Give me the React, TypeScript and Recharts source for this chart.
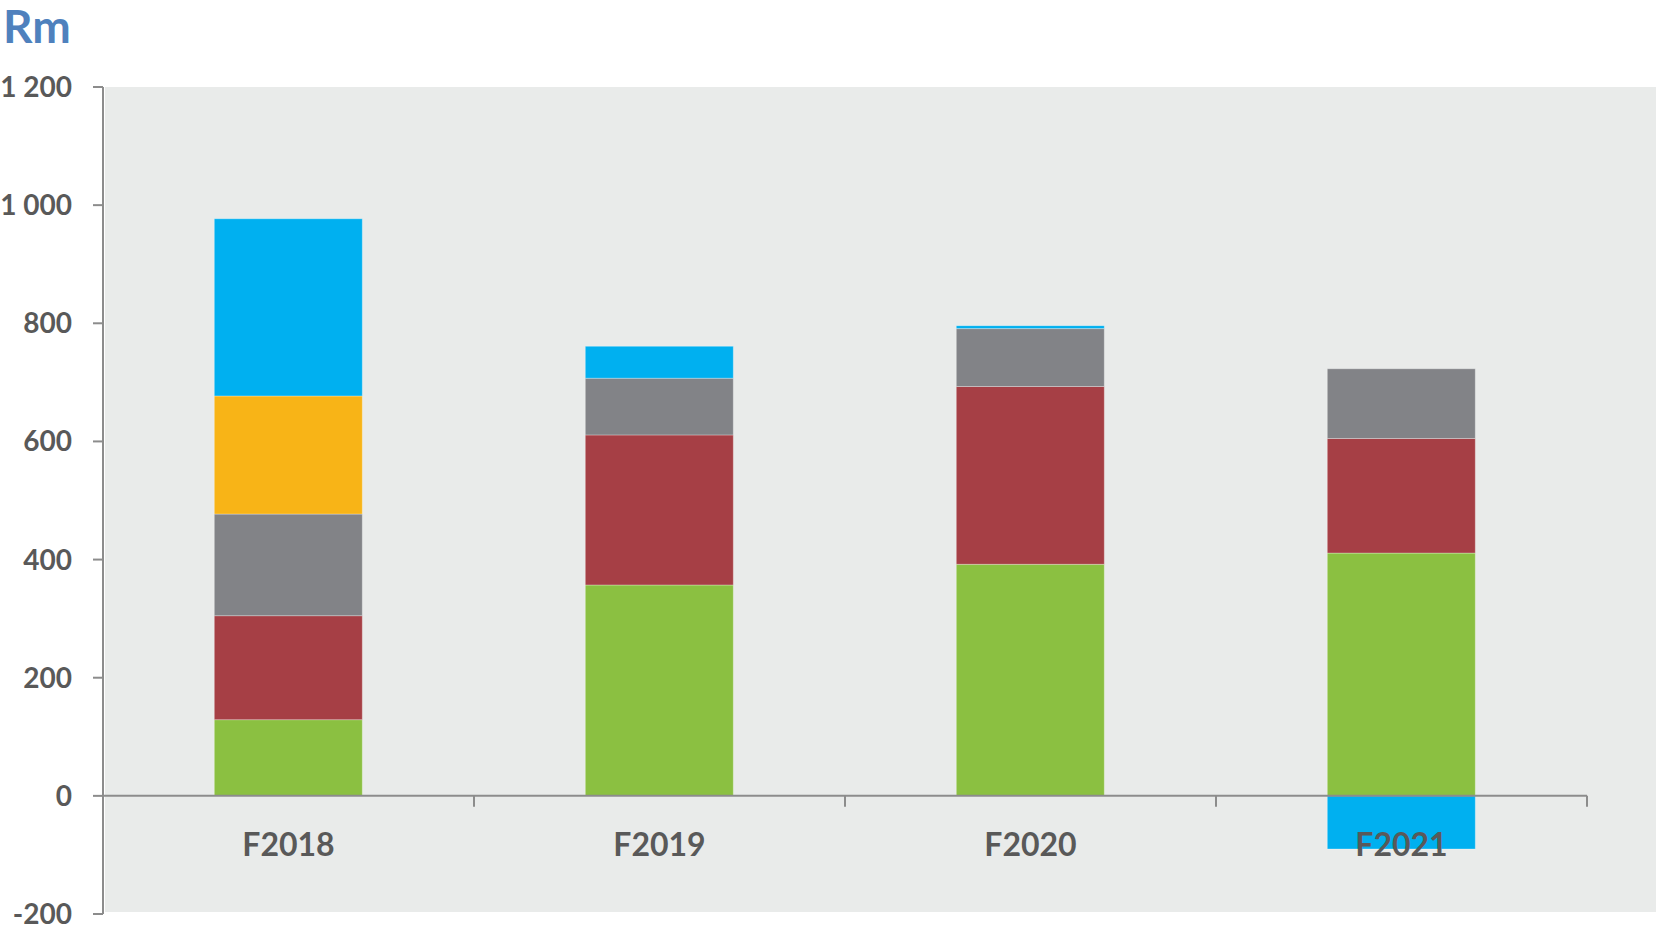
import React from "react";
import {
  BarChart,
  Bar,
  XAxis,
  YAxis,
  ReferenceLine,
} from "recharts";

const categories = ["F2018", "F2019", "F2020", "F2021"];
const greenValues = [129, 357, 392, 411];
const redValues = [176, 254, 301, 194];
const greyValues = [172, 96, 98, 118];
const yellowValues = [200, 0, 0, 0];
const blueValues = [300, 54, 5, -90];
const yTicks = [-200, 0, 200, 400, 600, 800, 1000, 1200];

const data = categories.map((name, i) => ({
  name,
  green: greenValues[i],
  red: redValues[i],
  grey: greyValues[i],
  yellow: yellowValues[i],
  blue: blueValues[i],
}));

const W = 1659;
const H = 932;
const MARGIN = { top: 87, right: 72, bottom: 0, left: 0 };
const X_AXIS_H = 18;
const Y_AXIS_W = 103;
const Y_MIN = -200;
const Y_MAX = 1200;
const PLOT_W = W - MARGIN.left - MARGIN.right - Y_AXIS_W;
const PLOT_H = H - MARGIN.top - MARGIN.bottom - X_AXIS_H;
const ZERO_Y = MARGIN.top + (PLOT_H * Y_MAX) / (Y_MAX - Y_MIN);
const BAND = PLOT_W / categories.length;

const AXIS_GREY = "#8c8c8c";
const TEXT_GREY = "#595959";

const withSpaces = (n: number) => String(n).replace(/\B(?=(\d{3})+(?!\d))/g, " ");
const fmt = (v: number) => (v < 0 ? "-" + withSpaces(-v) : withSpaces(v));

// category labels sit under the zero line, with a small tick at each band edge
const CategoryTick = (props: any) => {
  const { x, payload } = props;
  return (
    <g>
      <line
        x1={x + BAND / 2}
        x2={x + BAND / 2}
        y1={ZERO_Y}
        y2={ZERO_Y + 11}
        stroke={AXIS_GREY}
        strokeWidth={2}
      />
      <text
        x={x}
        y={ZERO_Y + 48}
        textAnchor="middle"
        dominantBaseline="central"
        fill={TEXT_GREY}
        fontSize={32}
        fontWeight={700}
      >
        {payload.value}
      </text>
    </g>
  );
};

const segStroke = "rgba(255,255,255,0.3)";

export default function App() {
  return (
    <div
      style={{
        position: "absolute",
        left: 0,
        top: 0,
        width: W,
        height: H,
        background: "#ffffff",
        fontFamily: "Lato, 'Open Sans', sans-serif",
      }}
    >
      <div
        style={{
          position: "absolute",
          left: 105,
          top: 87,
          width: 1551,
          height: 825,
          background: "#e9ebea",
        }}
      />
      <div
        style={{
          position: "absolute",
          left: 3,
          top: 0,
          fontSize: 46,
          lineHeight: "52px",
          fontWeight: 700,
          color: "#4f81bd",
        }}
      >
        Rm
      </div>
      <div style={{ position: "absolute", left: 0, top: 0 }}>
        <BarChart
          width={W}
          height={H}
          data={data}
          margin={MARGIN}
          stackOffset="sign"
          barCategoryGap="30%"
        >
          <XAxis
            dataKey="name"
            height={X_AXIS_H}
            axisLine={false}
            tickLine={false}
            tick={(p: any) => <CategoryTick {...p} />}
            interval={0}
          />
          <YAxis
            width={Y_AXIS_W}
            domain={[Y_MIN, Y_MAX]}
            ticks={yTicks}
            interval={0}
            tickFormatter={fmt}
            tickSize={10}
            tickMargin={21}
            axisLine={{ stroke: AXIS_GREY, strokeWidth: 2 }}
            tickLine={{ stroke: AXIS_GREY, strokeWidth: 2 }}
            tick={{ fill: TEXT_GREY, fontSize: 28, fontWeight: 700 }}
          />
          <Bar dataKey="green" stackId="a" fill="#8bc041" stroke={segStroke} isAnimationActive={false} />
          <Bar dataKey="red" stackId="a" fill="#a63f45" stroke={segStroke} isAnimationActive={false} />
          <Bar dataKey="grey" stackId="a" fill="#828387" stroke={segStroke} isAnimationActive={false} />
          <Bar dataKey="yellow" stackId="a" fill="#f8b417" stroke={segStroke} isAnimationActive={false} />
          <Bar dataKey="blue" stackId="a" fill="#00b0f0" stroke={segStroke} isAnimationActive={false} />
          <ReferenceLine y={0} stroke={AXIS_GREY} strokeWidth={2} />
        </BarChart>
      </div>
    </div>
  );
}
